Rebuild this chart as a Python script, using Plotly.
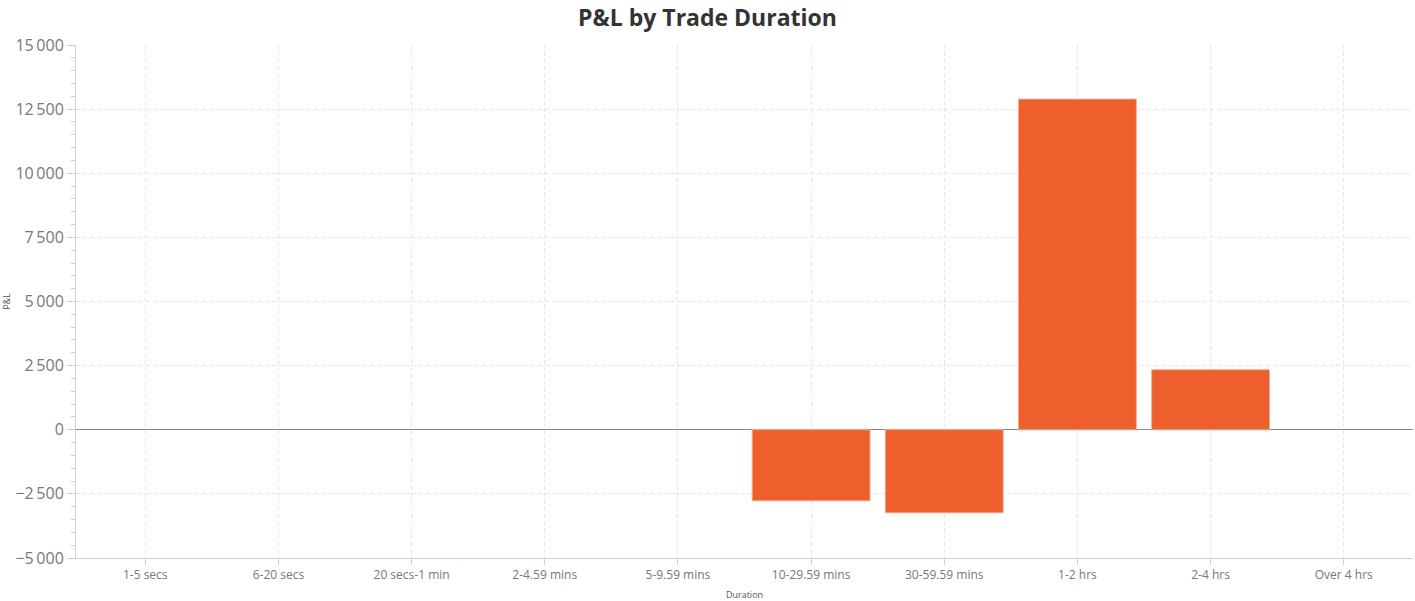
import plotly.graph_objects as go

categories = ["1-5 secs", "6-20 secs", "20 secs-1 min", "2-4.59 mins", "5-9.59 mins",
              "10-29.59 mins", "30-59.59 mins", "1-2 hrs", "2-4 hrs", "Over 4 hrs"]
pnl = [0, 0, 0, 0, 0, -2770, -3240, 12890, 2340, 0]
y_ticks = [-5000, -2500, 0, 2500, 5000, 7500, 10000, 12500, 15000]

line_widths = [0 if v == 0 else 1 for v in pnl]

fig = go.Figure()
fig.add_trace(go.Bar(
    x=categories, y=pnl,
    marker=dict(color="#EE5F2E", line=dict(color="rgba(250,170,140,0.9)", width=line_widths)),
    width=0.885,
    hoverinfo="x+y",
))

fig.update_layout(
    width=1415, height=601,
    margin=dict(l=76, r=2, t=45, b=43),
    paper_bgcolor="white", plot_bgcolor="white",
    font=dict(family="Open Sans, Noto Sans, sans-serif", color="#777"),
    title=dict(text="<b>P&L by Trade Duration</b>", x=0.5, xanchor="center",
               yref="container", y=0.97, yanchor="middle",
               font=dict(size=23, color="#333", family="Open Sans, sans-serif")),
    separators=".\u2009",
    showlegend=False,
    xaxis=dict(
        title=dict(text="Duration", font=dict(size=9, color="#555"), standoff=12),
        automargin=False,
        tickfont=dict(size=12, color="#777"),
        showgrid=True, gridcolor="#e6e6e6", griddash="4px,3px", gridwidth=1,
        showline=True, linecolor="#d0d0d0", linewidth=1,
        ticks="outside", ticklen=6, tickcolor="#d0d0d0",
        range=[-0.52, 9.52],
    ),
    yaxis=dict(
        title=dict(text="P&L", font=dict(size=9, color="#555"), standoff=10),
        automargin=False,
        tickfont=dict(size=16, color="#777"),
        range=[-5000, 15000],
        tickvals=y_ticks,
        tickformat=",d",
        separatethousands=True,
        showgrid=True, gridcolor="#e6e6e6", griddash="4px,3px", gridwidth=1,
        showline=True, linecolor="#d0d0d0", linewidth=1,
        ticks="outside", ticklen=8, tickcolor="#d0d0d0",
        minor=dict(dtick=500, ticks="outside", ticklen=4, tickcolor="#d0d0d0", showgrid=False),
        zeroline=True, zerolinecolor="#888", zerolinewidth=1,
    ),
)

fig.write_html("out.html", config={"displayModeBar": False},
               post_script="document.body.style.margin='0';document.body.style.overflow='hidden';")
